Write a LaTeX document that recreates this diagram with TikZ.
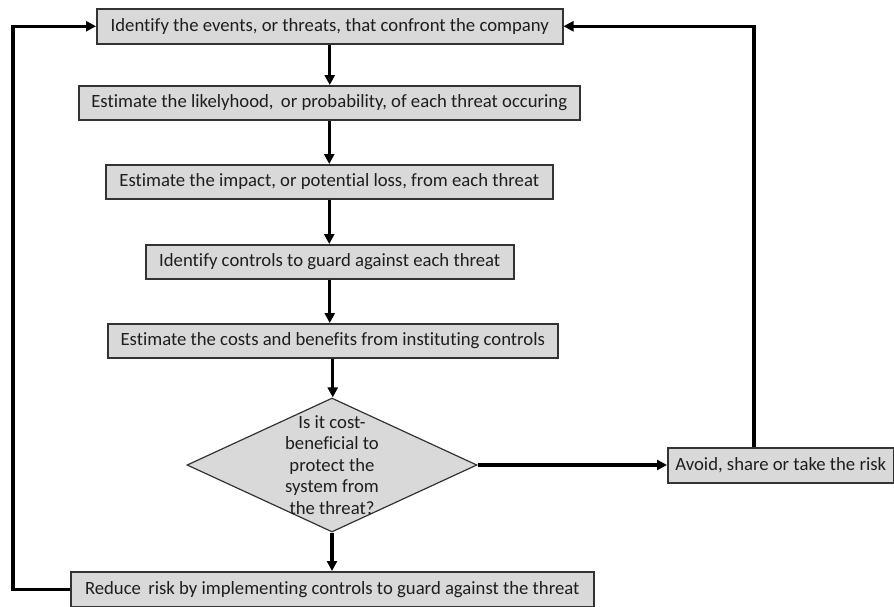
\documentclass[tikz,border=0pt]{standalone}
\usepackage{fontspec}
\setmainfont{Carlito}[Ligatures=NoCommon]
\usetikzlibrary{arrows.meta,shapes.geometric}
\definecolor{boxfill}{HTML}{D9D9D9}
\definecolor{boxline}{HTML}{333333}
\definecolor{txt}{HTML}{1E1E1E}
\tikzset{
  procbox/.style={draw=boxline, line width=1.5pt, fill=boxfill, text=txt,
    inner sep=0pt, anchor=north west, font=\fontsize{18.7}{21}\selectfont},
  decbox/.style={draw=boxline, line width=1.2pt, fill=boxfill, diamond, inner sep=0pt},
  flow/.style={line width=3.3pt, draw=black, -{Triangle[length=10pt,width=10pt]}},
}
\newcommand{\bx}[6]{% name, x1, y1, x2, y2, text
  \node[procbox, minimum width=#4pt-#2pt, minimum height=#5pt-#3pt] (#1) at (#2,#3) {#6};}
\begin{document}
\begin{tikzpicture}[x=1pt,y=-1pt]
\useasboundingbox (0,0) rectangle (894,606);
\bx{b1}{96}{8}{562}{43}{Identify the events, or threats, that confront the company}
\bx{b2}{78}{85}{579}{119}{Estimate the likelyhood,\, or probability, of each threat occuring}
\bx{b3}{105}{164}{552}{198}{Estimate the impact, or potential loss, from each threat}
\bx{b4}{145}{244}{513}{278}{Identify controls to guard against each threat}
\bx{b5}{107}{323}{557}{357}{Estimate the costs and benefits from instituting controls}
\bx{b6}{667}{447}{893}{482}{Avoid, share or take the risk}
\bx{b7}{70}{571}{593}{606}{Reduce\, risk by implementing controls to guard against the threat}
\node[decbox, minimum width=290pt, minimum height=134pt] (dia) at (332,465) {};
\node[text=txt, align=center, font=\fontsize{18.7}{21.5}\selectfont, inner sep=0pt] (diatext) at (dia.center)
  {Is it cost-\\beneficial to\\protect the\\system from\\the threat?};
\coordinate (rt) at (754,0);
\coordinate (lt) at (13,0);
\draw[flow] (b1.south) -- (b1.south |- b2.north);
\draw[flow] (b2.south) -- (b2.south |- b3.north);
\draw[flow] (b3.south) -- (b3.south |- b4.north);
\draw[flow] (b4.south) -- (b4.south |- b5.north);
\draw[flow] (b5.south) -- (b5.south |- dia.north);
\draw[flow] (dia.south) -- (dia.south |- b7.north);
\draw[flow] (dia.east) -- (dia.east -| b6.west);
\draw[flow] (rt |- b6.north) |- (b1.east);
\draw[flow] (b7.west) -| (lt |- b1.west) -- (b1.west);
\end{tikzpicture}
\end{document}
